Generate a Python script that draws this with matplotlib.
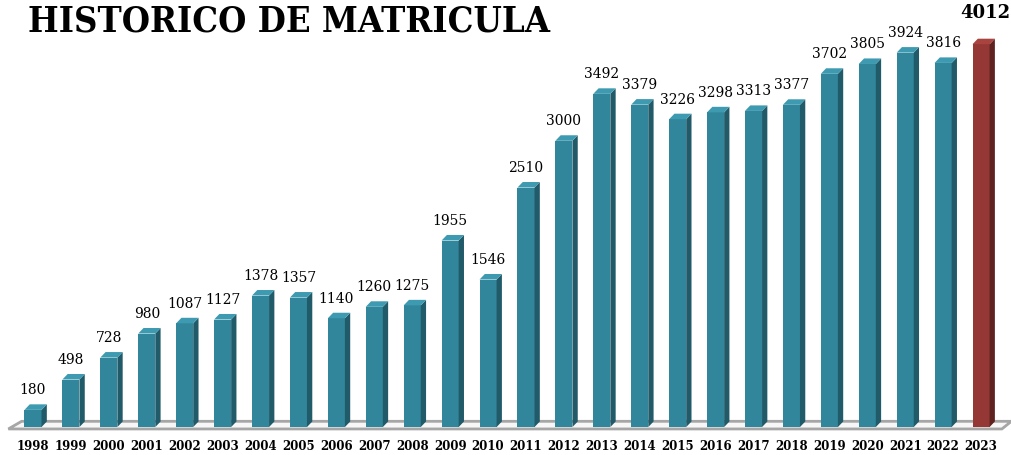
import numpy as np
import matplotlib.pyplot as plt
from matplotlib.patches import Polygon

years = [str(y) for y in range(1998, 2024)]
values = [180, 498, 728, 980, 1087, 1127, 1378, 1357, 1140, 1260, 1275, 1955, 1546,
          2510, 3000, 3492, 3379, 3226, 3298, 3313, 3377, 3702, 3805, 3924, 3816, 4012]

teal_front = "#31869B"
teal_side = "#215A68"
teal_top = "#3E9AB0"
red_front = "#953735"
red_side = "#5E2220"
red_top = "#A8433F"

fig = plt.figure(figsize=(10.11, 4.56), dpi=100)
ax = fig.add_axes([0, 0, 1, 1])
ax.set_xlim(-0.87, 25.79)
ax.set_ylim(-293, 4486)
ax.axis("off")

x = np.arange(len(values))
w = 0.45      # front face width
dx, dy = 0.14, 58  # depth of the 3D side

# floor
floor = Polygon([(-0.65, -20), (25.55, -20), (25.8, 60), (-0.3, 60)], closed=True,
                facecolor="#F7F7F7", edgecolor="#A6A6A6", lw=2.0, zorder=1)
ax.add_patch(floor)

for i, v in enumerate(values):
    last = i == len(values) - 1
    front = red_front if last else teal_front
    side = red_side if last else teal_side
    top = red_top if last else teal_top
    x0 = x[i] - w / 2
    x1 = x[i] + w / 2
    ax.bar(x[i], v, width=w, color=front, zorder=3)
    ax.add_patch(Polygon([(x1, 0), (x1 + dx, dy), (x1 + dx, v + dy), (x1, v)],
                         closed=True, facecolor=side, edgecolor="none", zorder=3))
    ax.add_patch(Polygon([(x0, v), (x1, v), (x1 + dx, v + dy), (x0 + dx, v + dy)],
                         closed=True, facecolor=top, edgecolor="none", zorder=3))
    if last:
        ax.text(x[i] + 0.1, v + 290, str(v), ha="center", va="baseline",
                family="DejaVu Serif", fontweight="bold", fontsize=13, zorder=4)
    else:
        ax.text(x[i], v + 175, str(v), ha="center", va="baseline",
                family="DejaVu Serif", fontsize=10, zorder=4)
    ax.text(x[i], -235, years[i], ha="center", va="baseline",
            family="DejaVu Serif", fontweight="bold", fontsize=8.5, zorder=4)

fig.text(28 / 1011, 1 - 31 / 456, "HISTORICO DE MATRICULA", ha="left", va="baseline",
         family="DejaVu Serif", fontstretch="condensed", fontweight="bold", fontsize=26)

fig.savefig("out.png", dpi=100)
